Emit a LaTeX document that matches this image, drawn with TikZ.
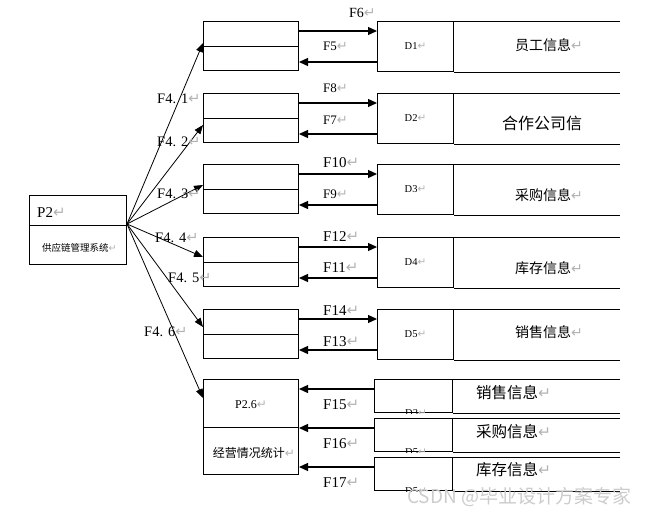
\documentclass[tikz,border=0pt]{standalone}
\usepackage{fontspec}
\setmainfont{Liberation Serif}
\newfontfamily\cjk{Noto Sans CJK SC}
\newfontfamily\symfont{DejaVu Sans}
\usetikzlibrary{arrows.meta,positioning}

\newcommand\fs[1]{\fontsize{#1}{#1}\selectfont}
\newcommand\ret{{\symfont\color{gray!60}↵}}

\tikzset{
  proc/.style={draw, line width=1pt, minimum width=95pt, minimum height=49pt,
    inner sep=0pt, anchor=north west},
  dbox/.style={draw, line width=1pt, minimum width=76pt, minimum height=50pt,
    inner sep=0pt, anchor=north west, font=\fs{10.5}},
  sbox/.style={draw, line width=1pt, minimum width=78pt, minimum height=33pt,
    inner sep=0pt, anchor=north west},
  flow/.style={line width=1.2pt, -{Triangle[length=9pt,width=8pt]}},
  fan/.style={line width=0.8pt, -{Triangle[length=9pt,width=7pt]}},
  lbl/.style={anchor=west, inner sep=0pt, font=\fs{15}},
  slbl/.style={anchor=west, inner sep=0pt, font=\fs{13}},
  flbl/.style={anchor=west, inner sep=0pt, font=\fs{14.5}},
  info/.style={anchor=west, inner sep=0pt, font=\cjk\fs{14}},
}

\begin{document}
\begin{tikzpicture}[x=1pt, y=-1pt]
  \useasboundingbox (0,0) rectangle (654,517);

  % P2
  \node [draw, line width=1pt, minimum width=97pt, minimum height=69pt,
    inner sep=0pt, anchor=north west] (p2) at (29,195) {};
  \draw [line width=1pt] ([yshift=-30pt]p2.north west) -- ([yshift=-30pt]p2.north east);
  \node [anchor=west, inner sep=0pt, font=\fs{15}] (p2t) at (37,213) {P2\ret};
  \node [anchor=west, inner sep=0pt, font=\cjk\fs{9.5}] (p2s) at (42,248) {供应链管理系统\ret};
  \coordinate (fan) at ([yshift=-29pt]p2.north east);

  % processes
  \node [proc] (proc1) at (203,21) {};
  \node [proc] (proc2) at (203,93) {};
  \node [proc] (proc3) at (203,164) {};
  \node [proc] (proc4) at (203,237) {};
  \node [proc] (proc5) at (203,309) {};
  \foreach \n in {proc1,proc2,proc3,proc4,proc5}
    \draw [line width=1pt] (\n.west) -- (\n.east);

  % data stores
  \node [dbox] (d1) at (377,21) {D1\ret};
  \node [dbox] (d2) at (377,93) {D2\ret};
  \node [dbox] (d3) at (377,164) {D3\ret};
  \node [dbox] (d4) at (377,237) {D4\ret};
  \node [dbox] (d5) at (377,309) {D5\ret};
  \foreach \n in {d1,d2,d3,d4,d5}{
    \draw [line width=1pt] (\n.north east) -- ++(166,0);
    \draw [line width=1pt] (\n.south east) -- ++(166,0);
  }
  \node [info] (i1) at (515,45) {员工信息\ret};
  \node [info, font=\cjk\fs{16}] (i2) at (502,123) {合作公司信};
  \node [info] (i3) at (515,195) {采购信息\ret};
  \node [info] (i4) at (515,268) {库存信息\ret};
  \node [info] (i5) at (515,332) {销售信息\ret};

  % flows between processes and stores
  \foreach \n/\d in {proc1/d1,proc2/d2,proc3/d3,proc4/d4,proc5/d5}{
    \draw [flow] ([yshift=-10pt]\n.north east) -- ([yshift=-10pt]\d.north west);
    \draw [flow] ([yshift=-41pt]\d.north west) -- ([yshift=-41pt]\n.north east);
  }
  \node [lbl, font=\fs{14}] (f6) at (349,13) {F6\ret};
  \node [slbl] (f5) at (323,46) {F5\ret};
  \node [slbl] (f8) at (323,88) {F8\ret};
  \node [slbl] (f7) at (323,120) {F7\ret};
  \node [lbl] (f10) at (323,163) {F10\ret};
  \node [slbl] (f9) at (323,194) {F9\ret};
  \node [lbl] (f12) at (323,237) {F12\ret};
  \node [lbl] (f11) at (323,268) {F11\ret};
  \node [lbl] (f14) at (323,311) {F14\ret};
  \node [lbl] (f13) at (323,342) {F13\ret};

  % P2.6
  \node [proc, minimum height=95pt] (p26) at (203,379) {};
  \draw [line width=1pt] ([yshift=-48pt]p26.north west) -- ([yshift=-48pt]p26.north east);
  \node [inner sep=0pt, font=\fs{12}] (p26t) at (251,405) {P2.6\ret};
  \node [inner sep=0pt, font=\cjk\fs{12}] (p26s) at (254,453) {经营情况统计\ret};

  % stores read by P2.6
  \node [sbox] (s1) at (374,379) {};
  \node [sbox] (s2) at (374,418) {};
  \node [sbox] (s3) at (374,457) {};
  \foreach \n/\t in {s1/D3,s2/D5,s3/D5}{
    \draw [line width=1pt] (\n.north east) -- ++(167,0);
    \draw [line width=1pt] (\n.south east) -- ++(167,0);
    \begin{scope}
      \clip (\n.north west) rectangle (\n.south east);
      \node [inner sep=0pt, font=\fs{10.5}] (\n t) at ([xshift=42pt, yshift=-34pt]\n.north west) {\t\ret};
    \end{scope}
    \path ([yshift=-10pt]\n.north west) coordinate (\n a);
    \draw [flow] (\n a) -- (\n a -| p26.east);
  }
  \node [info, font=\cjk\fs{15.5}] (j1) at (476,393) {销售信息\ret};
  \node [info, font=\cjk\fs{15.5}] (j2) at (476,432) {采购信息\ret};
  \node [info, font=\cjk\fs{15.5}] (j3) at (476,470) {库存信息\ret};
  \node [lbl] (f15) at (323,405) {F15\ret};
  \node [lbl] (f16) at (323,444) {F16\ret};
  \node [lbl] (f17) at (323,483) {F17\ret};

  % fan out of P2
  \draw [fan] (fan) -- ([yshift=-22pt]proc1.north west);
  \draw [fan] (fan) -- ([yshift=-32pt]proc2.north west);
  \draw [fan] (fan) -- ([yshift=-21pt]proc3.north west);
  \draw [fan] (fan) -- ([yshift=-20pt]proc4.north west);
  \draw [fan] (fan) -- ([yshift=-18pt]proc5.north west);
  \draw [fan] (fan) -- ([yshift=-19pt]p26.north west);
  \node [flbl] (f41) at (157,99) {F4.\hspace{5pt}1\ret};
  \node [flbl] (f42) at (157,142) {F4.\hspace{5pt}2\ret};
  \node [flbl] (f43) at (157,194) {F4.\hspace{5pt}3\ret};
  \node [flbl] (f44) at (155,238) {F4.\hspace{5pt}4\ret};
  \node [flbl] (f45) at (168,278) {F4.\hspace{5pt}5\ret};
  \node [flbl] (f46) at (144,332) {F4.\hspace{5pt}6\ret};

  % watermark
  \node [anchor=west, inner sep=0pt, text=gray!40, font=\cjk\fs{19}] (wm) at (407,497)
    {CSDN @毕业设计方案专家};
\end{tikzpicture}
\end{document}
